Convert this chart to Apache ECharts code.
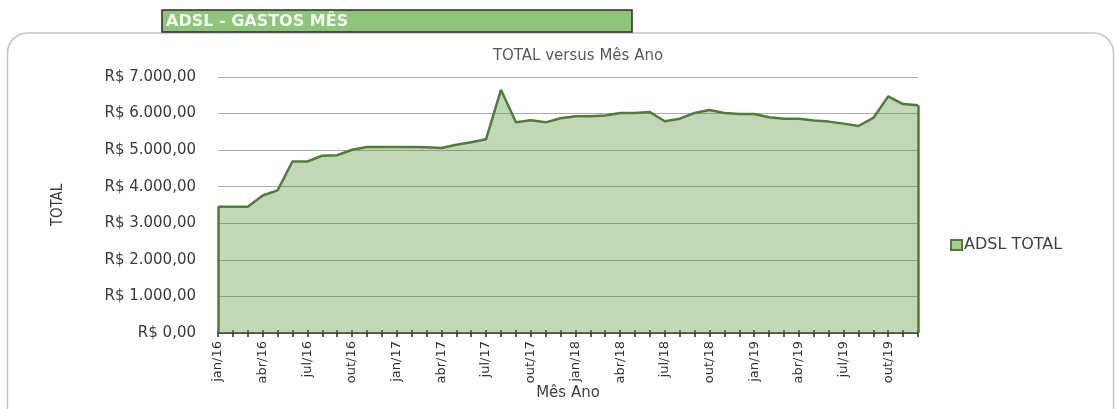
<!DOCTYPE html>
<html>
<head>
<meta charset="utf-8">
<script src="https://cdn.jsdelivr.net/npm/echarts@6/dist/echarts.min.js"></script>
<style>
html,body{margin:0;padding:0;background:#fff;}
#chart{width:1115px;height:409px;}
</style>
</head>
<body>
<div id="chart"></div>
<script>
// ---- data ----
var months = [
  'jan/16','fev/16','mar/16','abr/16','mai/16','jun/16','jul/16','ago/16','set/16','out/16','nov/16','dez/16',
  'jan/17','fev/17','mar/17','abr/17','mai/17','jun/17','jul/17','ago/17','set/17','out/17','nov/17','dez/17',
  'jan/18','fev/18','mar/18','abr/18','mai/18','jun/18','jul/18','ago/18','set/18','out/18','nov/18','dez/18',
  'jan/19','fev/19','mar/19','abr/19','mai/19','jun/19','jul/19','ago/19','set/19','out/19','nov/19','dez/19'
];
var adslTotal = [
  3450, 3450, 3450, 3760, 3900, 4690, 4690, 4850, 4860, 5010, 5085, 5085,
  5085, 5085, 5080, 5060, 5150, 5215, 5300, 6650, 5760, 5815, 5760, 5870,
  5925, 5925, 5950, 6015, 6015, 6040, 5790, 5860, 6015, 6100, 6015, 5990,
  5990, 5900, 5860, 5860, 5810, 5780, 5725, 5660, 5880, 6470, 6260, 6225
];
var seriesName = 'ADSL TOTAL';
var headerText = 'ADSL - GASTOS MÊS';
var chartTitle = 'TOTAL versus Mês Ano';
var xName = 'Mês Ano';
var yName = 'TOTAL';
var yMin = 0, yMax = 7000, yStep = 1000;

function brl(v){
  var s = String(Math.round(v)).replace(/\B(?=(\d{3})+(?!\d))/g, '.');
  return 'R$ ' + s + ',00';
}

var lineColor = '#4F7D38';
var font = 'DejaVu Sans';
var last = adslTotal.length - 1;

var chart = echarts.init(document.getElementById('chart'));
chart.setOption({
  animation: false,
  backgroundColor: '#ffffff',
  graphic: [
    {type:'rect', z:0, shape:{x:7.5, y:33, width:1106, height:500, r:20},
     style:{fill:'none', stroke:'#C4C4C4', lineWidth:1.5}},
    {type:'rect', z:10, shape:{x:162, y:10, width:470, height:22},
     style:{fill:'#8EC57B', stroke:'#2A2A2A', lineWidth:1.5}},
    {type:'text', z:11, x:166, y:21.5,
     style:{text:headerText, fill:'#F2F9EE', font:'bold 16px "DejaVu Sans"', textVerticalAlign:'middle'}}
  ],
  title: {
    text: chartTitle, left: 573, top: 44, textAlign: 'center',
    textStyle: {fontFamily: font, fontSize: 15, fontWeight: 'normal', color: '#5A5A5A'}
  },
  legend: {
    left: 945, top: 232, icon: 'rect', itemWidth: 11, itemHeight: 10, itemGap: 4,
    data: [{name: seriesName, itemStyle: {color: '#A7CC93', borderColor: lineColor, borderWidth: 2}}],
    textStyle: {fontFamily: font, fontSize: 16, color: '#404040', padding:[0,0,0,-3]}
  },
  grid: {left: 218, right: 197, top: 77, bottom: 76, containLabel: false, outerBoundsMode: 'none'},
  xAxis: [{
    type: 'category', data: months, boundaryGap: false,
    name: xName, nameLocation: 'middle', nameGap: 53, nameMoveOverlap: false,
    nameTextStyle: {fontFamily: font, fontSize: 15, color: '#404040'},
    axisLine: {lineStyle: {color: '#2E2E2E', width: 1.5}},
    axisTick: {show: true, interval: 0, length: 4, lineStyle: {color: '#2E2E2E', width: 1.5}},
    axisLabel: {interval: 2, rotate: 90, margin: 8, fontFamily: font, fontSize: 13, color: '#333333'},
    splitLine: {show: false}
  }, {
    type: 'category', data: months, boundaryGap: false, position: 'bottom',
    axisLine: {show: false},
    axisTick: {show: true, inside: true, interval: 0, length: 3, lineStyle: {color: '#2E2E2E', width: 1.5}},
    axisLabel: {show: false}, splitLine: {show: false}
  }],
  yAxis: {
    type: 'value', min: yMin, max: yMax, interval: yStep,
    name: yName, nameLocation: 'middle', nameGap: 152, nameRotate: 90, nameMoveOverlap: false,
    nameTextStyle: {fontFamily: 'DejaVu Sans Condensed', fontSize: 15, color: '#3A3A3A'},
    axisLine: {show: false}, axisTick: {show: false},
    axisLabel: {margin: 22, fontFamily: font, fontSize: 15, color: '#3A3A3A', formatter: brl},
    splitLine: {lineStyle: {color: '#ABABAB', width: 1}}
  },
  series: [{
    name: seriesName, type: 'line', data: adslTotal, xAxisIndex: 0,
    showSymbol: false, symbol: 'none',
    lineStyle: {color: lineColor, width: 2.5},
    itemStyle: {color: lineColor},
    areaStyle: {color: 'rgba(80,140,50,0.35)', opacity: 1, origin: 'start'},
    markLine: {
      silent: true, symbol: 'none', label: {show: false},
      lineStyle: {color: lineColor, width: 2.5, type: 'solid'},
      data: [
        [{coord: [0, 0]}, {coord: [0, adslTotal[0]]}],
        [{coord: [last, 0]}, {coord: [last, adslTotal[last]]}]
      ]
    }
  }]
});
</script>
</body>
</html>
